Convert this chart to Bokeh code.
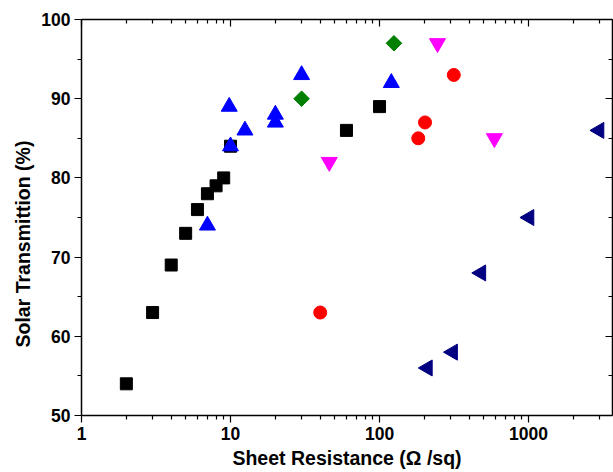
import math
from bokeh.plotting import figure
from bokeh.models import LogAxis, LinearAxis, FixedTicker, Range1d, PrintfTickFormatter, Title
from bokeh.embed import file_html
from bokeh.resources import INLINE

# --- data (sheet resistance in ohm/sq, solar transmission in %) ---
sq_x = [2, 3, 4, 5, 6, 7, 8, 9, 10, 60, 100]
sq_y = [54, 63, 69, 73, 76, 78, 79, 80, 84, 86, 89]

tri_x = [7, 9.8, 10, 12.5, 20, 20, 30, 120]
tri_y = [74, 89, 84, 86, 88, 87, 93, 92]

dia_x = [30, 125]
dia_y = [90, 97]

inv_x = [46, 245, 590]
inv_y = [82, 97, 85]

circ_x = [40, 182, 202, 315]
circ_y = [63, 85, 87, 93]

left_x = [210, 310, 480, 1010, 2980]
left_y = [56, 58, 68, 75, 86]

x_major = [1, 10, 100, 1000]
x_minor = [m * d for d in [1, 10, 100, 1000] for m in range(2, 10)]
y_major = [50, 60, 70, 80, 90, 100]
y_minor = [55, 65, 75, 85, 95]

x_title = "Sheet Resistance (Ω /sq)"
y_title = "Solar Transmittion (%)"

FONT = "Liberation Sans"

p = figure(width=613, height=472, x_axis_type="log",
           x_range=Range1d(1, 3660), y_range=Range1d(50, 100),
           output_backend="svg", toolbar_location=None,
           min_border_left=81, min_border_right=1,
           min_border_top=19, min_border_bottom=57)
p.outline_line_color = None
p.xgrid.visible = False
p.ygrid.visible = False
p.background_fill_color = "white"
p.border_fill_color = "white"

def style(ax, inward=False, labels=True):
    ax.axis_line_color = "black"
    ax.axis_line_width = 1.5
    ax.major_tick_line_color = "black"
    ax.minor_tick_line_color = "black"
    ax.major_tick_line_width = 1.2
    ax.minor_tick_line_width = 1.2
    if inward:
        ax.major_tick_in, ax.major_tick_out = 7, 0
        ax.minor_tick_in, ax.minor_tick_out = 4, 0
    else:
        ax.major_tick_in, ax.major_tick_out = 0, 7
        ax.minor_tick_in, ax.minor_tick_out = 0, 4
    ax.major_label_text_font = FONT
    ax.major_label_text_font_style = "bold"
    ax.major_label_text_color = "black"
    ax.major_label_text_font_size = "17.5px" if labels else "1px"
    if not labels:
        ax.major_label_text_color = None
    ax.axis_label_text_font = FONT
    ax.axis_label_text_font_style = "bold"
    ax.axis_label_text_color = "black"
    ax.axis_label_text_font_size = "19.5px"

xt = FixedTicker(ticks=x_major, minor_ticks=x_minor)
yt = FixedTicker(ticks=y_major, minor_ticks=y_minor)

xa = p.xaxis[0]
xa.ticker = xt
xa.formatter = PrintfTickFormatter(format="%d")
style(xa)
xa.axis_label = x_title
xa.major_label_standoff = 4
xa.axis_label_standoff = 4

ya = p.yaxis[0]
ya.ticker = yt
style(ya)
ya.major_label_standoff = 4

top = LogAxis(ticker=FixedTicker(ticks=x_major, minor_ticks=x_minor))
style(top, inward=True, labels=False)
top.major_label_standoff = 0
p.add_layout(top, "above")

right = LinearAxis(ticker=FixedTicker(ticks=y_major, minor_ticks=y_minor))
style(right, inward=True, labels=False)
right.major_label_standoff = 0
p.add_layout(right, "right")

ytitle = Title(text=y_title, align="left", offset=68, standoff=10,
               text_font=FONT, text_font_style="bold", text_font_size="19.5px",
               text_color="black")
p.add_layout(ytitle, "left")

p.scatter(sq_x, sq_y, marker="square", size=12, color="black")
p.scatter(tri_x, tri_y, marker="triangle", size=16, color="#0000FF")
p.scatter(dia_x, dia_y, marker="square", size=11, angle=math.pi / 4, color="#008000")
p.scatter(inv_x, inv_y, marker="inverted_triangle", size=16, color="#FF00FF")
p.scatter(circ_x, circ_y, marker="circle", size=13, color="#FF0000")
p.scatter(left_x, left_y, marker="triangle", size=16, angle=math.pi / 2, color="#000080")

open("out.html", "w").write(file_html(p, INLINE))
